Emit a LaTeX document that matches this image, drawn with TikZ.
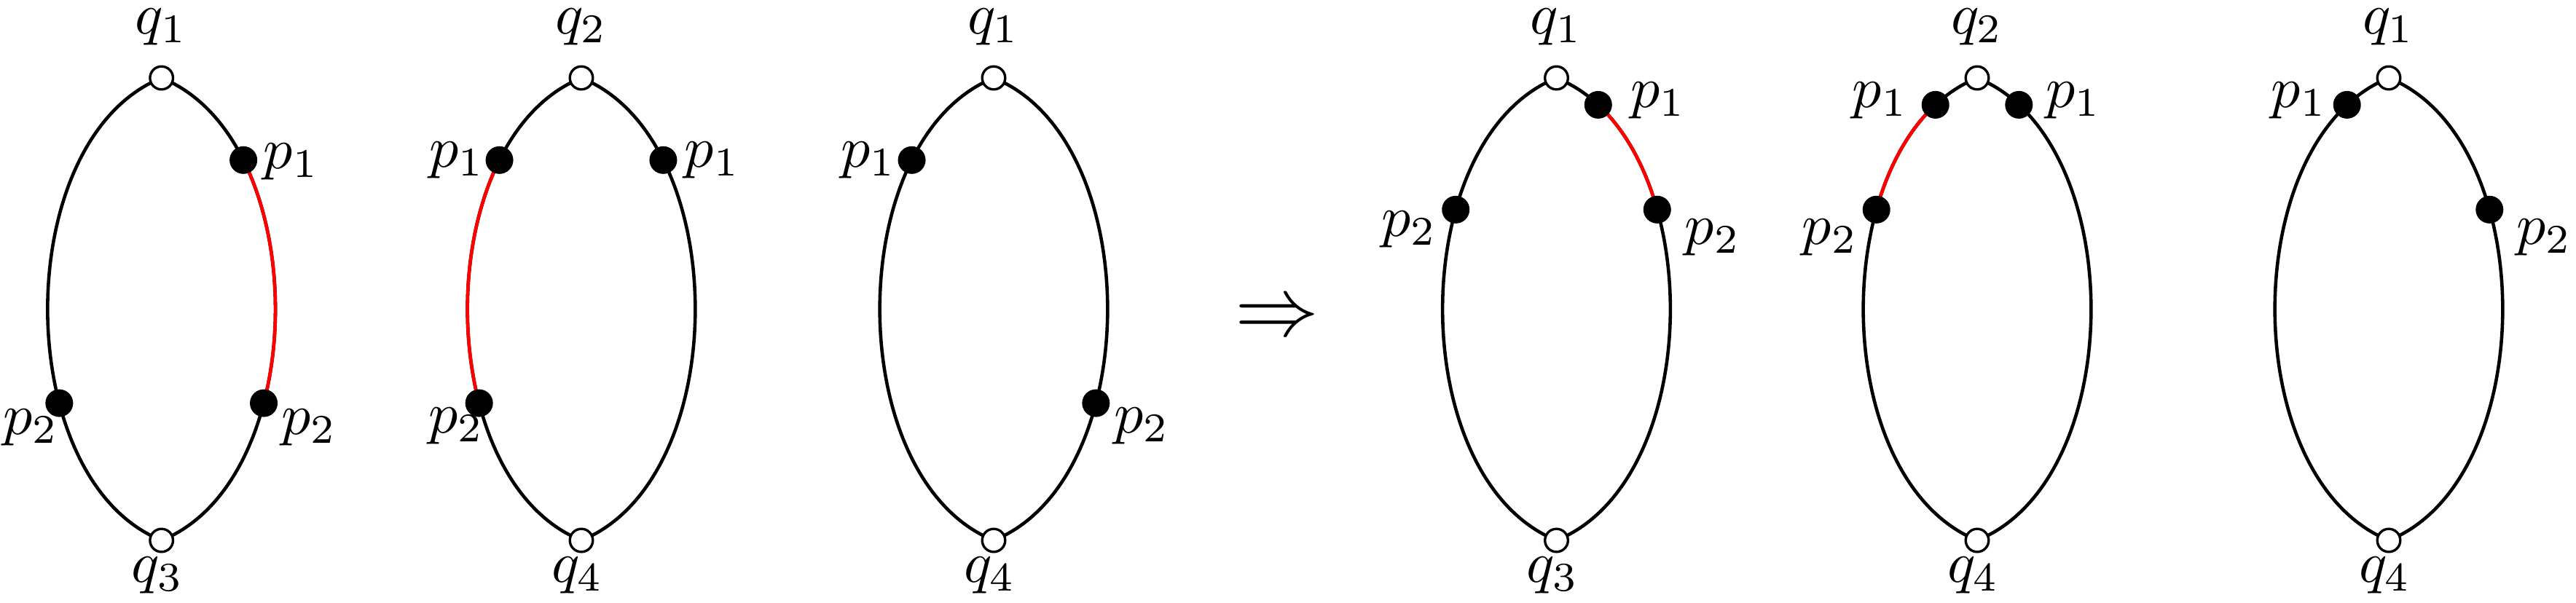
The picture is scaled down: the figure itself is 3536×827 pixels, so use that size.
\documentclass[tikz,border=0pt]{standalone}
\tikzset{
	whitedot/.style={circle, draw, fill=white, line width=0.42pt, inner sep=0pt, minimum size=3.95pt},
	blackdot/.style={circle, fill=black, inner sep=0pt, minimum size=4.75pt},
	lbl/.style={inner sep=0pt},
	rside/.style={out=22, in=-22, looseness=0.908},
	lside/.style={out=158, in=202, looseness=0.908}}
\tikzset{every picture/.style={line width=0.57pt}}

\begin{document}
\begin{tikzpicture}[x=0.125pt,y=0.125pt,yscale=-1,xscale=1]
	\useasboundingbox (0,0) rectangle (3536,827);

	% Diagram 1
	\coordinate (t1) at (221.7,107);
	\coordinate (b1) at (221.7,742);
	%Curve Lines
	\draw (t1) to [lside] coordinate [pos=0.66] (c1l2) (b1);
	\draw (t1) to [rside] coordinate [pos=0.235] (c1r1) coordinate [pos=0.66] (c1r2) (b1);
	%Red Curve
	\begin{scope}
		\clip (c1r1 -| t1) rectangle ([xshift=30pt]c1r2);
		\draw [red] (t1) to [rside] (b1);
	\end{scope}
	%Shape: Circle
	\node [whitedot] (q1t) at (t1) {};
	\node [whitedot] (q1b) at (b1) {};
	\node [blackdot] (p1l2) at (c1l2) {};
	\node [blackdot] (p1r1) at (c1r1) {};
	\node [blackdot] (p1r2) at (c1r2) {};
	% Text Node
	\node [lbl] (n1t) at (221.7,37) {$q_1$};
	% Text Node
	\node [lbl] (n1b) at (216.7,790) {$q_3$};
	% Text Node
	\node [lbl] (n1r1) at (400,221.7) {$p_1$};
	% Text Node
	\node [lbl] (n1r2) at (424.2,586.7) {$p_2$};
	% Text Node
	\node [lbl] (n1l2) at (42.5,586.7) {$p_2$};

	% Diagram 2
	\coordinate (t2) at (798,107);
	\coordinate (b2) at (798,742);
	%Curve Lines
	\draw (t2) to [lside] coordinate [pos=0.235] (c2l1) coordinate [pos=0.66] (c2l2) (b2);
	\draw (t2) to [rside] coordinate [pos=0.235] (c2r1) (b2);
	%Red Curve
	\begin{scope}
		\clip (c2l1 -| t2) rectangle ([xshift=-30pt]c2l2);
		\draw [red] (t2) to [lside] (b2);
	\end{scope}
	%Shape: Circle
	\node [whitedot] (q2t) at (t2) {};
	\node [whitedot] (q2b) at (b2) {};
	\node [blackdot] (p2l1) at (c2l1) {};
	\node [blackdot] (p2l2) at (c2l2) {};
	\node [blackdot] (p2r1) at (c2r1) {};
	% Text Node
	\node [lbl] (n2t) at (798,37) {$q_2$};
	% Text Node
	\node [lbl] (n2b) at (793,790) {$q_4$};
	% Text Node
	\node [lbl] (n2l1) at (627.4,220.4) {$p_1$};
	% Text Node
	\node [lbl] (n2r1) at (978,220.4) {$p_1$};
	% Text Node
	\node [lbl] (n2l2) at (626.5,584.7) {$p_2$};

	% Diagram 3
	\coordinate (t3) at (1364,107);
	\coordinate (b3) at (1364,742);
	%Curve Lines
	\draw (t3) to [lside] coordinate [pos=0.235] (c3l1) (b3);
	\draw (t3) to [rside] coordinate [pos=0.66] (c3r2) (b3);
	%Shape: Circle
	\node [whitedot] (q3t) at (t3) {};
	\node [whitedot] (q3b) at (b3) {};
	\node [blackdot] (p3l1) at (c3l1) {};
	\node [blackdot] (p3r2) at (c3r2) {};
	% Text Node
	\node [lbl] (n3t) at (1364,37) {$q_1$};
	% Text Node
	\node [lbl] (n3b) at (1359,790) {$q_4$};
	% Text Node
	\node [lbl] (n3l1) at (1192.2,220.4) {$p_1$};
	% Text Node
	\node [lbl] (n3r2) at (1567.8,584.7) {$p_2$};

	% Text Node
	\node [lbl, font=\Large] (arrow) at (1753,439) {$\Rightarrow$};

	% Diagram 4
	\coordinate (t4) at (2136.5,107);
	\coordinate (b4) at (2136.5,742);
	%Curve Lines
	\draw (t4) to [lside] coordinate [pos=0.33] (c4l2) (b4);
	\draw (t4) to [rside] coordinate [pos=0.102] (c4r1) coordinate [pos=0.33] (c4r2) (b4);
	%Red Curve
	\begin{scope}
		\clip (c4r1 -| t4) rectangle ([xshift=30pt]c4r2);
		\draw [red] (t4) to [rside] (b4);
	\end{scope}
	%Shape: Circle
	\node [whitedot] (q4t) at (t4) {};
	\node [whitedot] (q4b) at (b4) {};
	\node [blackdot] (p4l2) at (c4l2) {};
	\node [blackdot] (p4r1) at (c4r1) {};
	\node [blackdot] (p4r2) at (c4r2) {};
	% Text Node
	\node [lbl] (n4t) at (2136.5,37) {$q_1$};
	% Text Node
	\node [lbl] (n4b) at (2131.5,790) {$q_3$};
	% Text Node
	\node [lbl] (n4r1) at (2276.6,138.5) {$p_1$};
	% Text Node
	\node [lbl] (n4r2) at (2351,326) {$p_2$};
	% Text Node
	\node [lbl] (n4l2) at (1934.5,315) {$p_2$};

	% Diagram 5
	\coordinate (t5) at (2714,107);
	\coordinate (b5) at (2714,742);
	%Curve Lines
	\draw (t5) to [lside] coordinate [pos=0.102] (c5l1) coordinate [pos=0.33] (c5l2) (b5);
	\draw (t5) to [rside] coordinate [pos=0.102] (c5r1) (b5);
	%Red Curve
	\begin{scope}
		\clip (c5l1 -| t5) rectangle ([xshift=-30pt]c5l2);
		\draw [red] (t5) to [lside] (b5);
	\end{scope}
	%Shape: Circle
	\node [whitedot] (q5t) at (t5) {};
	\node [whitedot] (q5b) at (b5) {};
	\node [blackdot] (p5l1) at (c5l1) {};
	\node [blackdot] (p5l2) at (c5l2) {};
	\node [blackdot] (p5r1) at (c5r1) {};
	% Text Node
	\node [lbl] (n5t) at (2714,37) {$q_2$};
	% Text Node
	\node [lbl] (n5b) at (2709,790) {$q_4$};
	% Text Node
	\node [lbl] (n5l1) at (2581,138.5) {$p_1$};
	% Text Node
	\node [lbl] (n5r1) at (2846.5,138.5) {$p_1$};
	% Text Node
	\node [lbl] (n5l2) at (2512,326) {$p_2$};

	% Diagram 6
	\coordinate (t6) at (3279,107);
	\coordinate (b6) at (3279,742);
	%Curve Lines
	\draw (t6) to [lside] coordinate [pos=0.102] (c6l1) (b6);
	\draw (t6) to [rside] coordinate [pos=0.33] (c6r2) (b6);
	%Shape: Circle
	\node [whitedot] (q6t) at (t6) {};
	\node [whitedot] (q6b) at (b6) {};
	\node [blackdot] (p6l1) at (c6l1) {};
	\node [blackdot] (p6r2) at (c6r2) {};
	% Text Node
	\node [lbl] (n6t) at (3279,37) {$q_1$};
	% Text Node
	\node [lbl] (n6b) at (3274,790) {$q_4$};
	% Text Node
	\node [lbl] (n6l1) at (3155.8,138.3) {$p_1$};
	% Text Node
	\node [lbl] (n6r2) at (3492.7,326) {$p_2$};

\end{tikzpicture}
\end{document}
